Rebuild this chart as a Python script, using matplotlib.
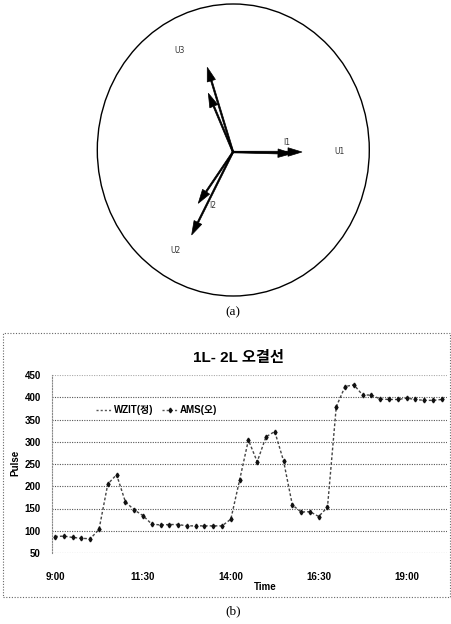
import matplotlib
matplotlib.use("Agg")
import numpy as np
import matplotlib.pyplot as plt
from matplotlib.patches import Ellipse, Rectangle
from matplotlib.lines import Line2D

# ---------------- data ----------------
# (a) phasor diagram: magnitudes (px-scaled) and angles (deg)
phasor_names = ["U1", "I1", "U3", "I3", "U2", "I2"]
phasor_mag = [69, 59, 88.5, 63.7, 92.7, 62]
phasor_ang = [0, -1.5, 106.9, 112.8, 243.5, 235.9]
label_text = ["U1", "I1", "U3", "U2", "I2"]
label_r = [107, 55, 115, 114, 57]
label_ang = [0, 9.5, 117.9, 240, 249]

# (b) line chart
times = ["9:00", "9:15", "9:30", "9:45", "10:00", "10:15", "10:30", "10:45",
         "11:00", "11:15", "11:30", "11:45", "12:00", "12:15", "12:30", "12:45",
         "13:00", "13:15", "13:30", "13:45", "14:00", "14:15", "14:30", "14:45",
         "15:00", "15:15", "15:30", "15:45", "16:00", "16:15", "16:30", "16:45",
         "17:00", "17:15", "17:30", "17:45", "18:00", "18:15", "18:30", "18:45",
         "19:00", "19:15", "19:30", "19:45", "20:00"]
pulse = [87, 88, 85, 83, 82, 103, 205, 226, 165, 147, 134, 115, 113, 114, 114,
         111, 111, 111, 111, 111, 126, 214, 304, 255, 311, 323, 257, 158, 142,
         143, 132, 153, 379, 424, 428, 405, 405, 396, 395, 395, 398, 395, 393,
         393, 395]
xtick_labels = ["9:00", "11:30", "14:00", "16:30", "19:00"]
yticks = [50, 100, 150, 200, 250, 300, 350, 400, 450]

W, H = 452, 624
fig = plt.figure(figsize=(W / 100, H / 100), dpi=100)

# ---------------- (a) phasor ----------------
ax1 = fig.add_axes([0, 1 - 312 / H, 1, 312 / H])
ax1.set_xlim(-233, W - 233)
ax1.set_ylim(152 - 312, 152)
ax1.axis("off")
ax1.add_patch(Ellipse((0.3, 2), 272, 292, fill=False, ec="black", lw=1.0))
for m, a in zip(phasor_mag, phasor_ang):
    r = np.deg2rad(a)
    ax1.arrow(0, 0, m * np.cos(r), m * np.sin(r), width=1.5, head_width=8.5,
              head_length=14, length_includes_head=True, color="black", lw=0.5)
for t, r, a in zip(label_text, label_r, label_ang):
    rad = np.deg2rad(a)
    ax1.text(r * np.cos(rad), r * np.sin(rad), t, fontsize=5.5, color="#333333",
             ha="center", va="center", family="DejaVu Sans")
fig.text(233 / W, 1 - 312 / H, "(a)", ha="center", va="center",
         fontsize=9.5, family="Liberation Serif")

# ---------------- (b) line chart ----------------
fam = ["Liberation Sans Narrow", "Liberation Sans", "Noto Sans CJK KR"]
fig.add_artist(Rectangle((3 / W, 1 - 597 / H), 447 / W, 264 / H,
                         transform=fig.transFigure, fill=False, ec="#666666",
                         lw=0.8, ls=(0, (1, 1.5))))

ax2 = fig.add_axes([52 / W, 1 - 553 / H, 395 / W, 178 / H])
x = np.arange(len(pulse))
ax2.plot(x, pulse, ls=(0, (2, 1.5)), color="#444444", lw=1.0, label="WZIT(정)")
ax2.plot(x, pulse, ls="none", marker="d", ms=2.4, color="#111111", label="AMS(오)")
ax2.set_xlim(-0.35, 44.6)
ax2.set_ylim(50, 450)
ax2.set_yticks(yticks)
ax2.set_yticklabels([str(v) for v in yticks], family=fam, fontweight="bold",
                    fontsize=7)
ax2.set_xticks([times.index(t) for t in xtick_labels])
ax2.set_xticklabels(xtick_labels, family=fam, fontweight="bold", fontsize=7)
ax2.tick_params(axis="both", length=0)
ax2.tick_params(axis="y", pad=8)
ax2.tick_params(axis="x", pad=14)
for s in ["top", "right", "bottom"]:
    ax2.spines[s].set_visible(False)
ax2.spines["left"].set_linestyle((0, (1, 1.5)))
ax2.spines["left"].set_color("#888888")
ax2.spines["left"].set_linewidth(0.8)
for v in yticks:
    ax2.axhline(v, color="#555555" if v < 450 else "#aaaaaa", lw=0.8,
                ls=(0, (1, 1.2)), zorder=0)
ax2.set_ylabel("Pulse", family=fam, fontweight="bold", fontsize=7)
ax2.set_xlabel("Time", family=fam, fontweight="bold", fontsize=7)
ax2.yaxis.set_label_coords((20 - 52) / 395, (553 - 463) / 178)
ax2.xaxis.set_label_coords((265 - 52) / 395, (553 - 582) / 178)

handles = [Line2D([], [], ls=(0, (1.5, 1.5)), color="#555555", lw=1.0),
           Line2D([], [], ls=(0, (1.5, 1.5)), color="#555555", lw=1.0,
                  marker="d", ms=2.4, mfc="#111111", mec="#111111", markevery=[1])]
ax2.legend(handles, ["WZIT(정)", "AMS(오)"], ncol=2, frameon=False,
           loc="center left", bbox_to_anchor=((96 - 52) / 395, (553 - 410) / 178),
           prop={"family": fam, "weight": "bold", "size": 7},
           handlelength=1.6, handletextpad=0.3, columnspacing=0.8,
           borderaxespad=0, borderpad=0)

fig.text(238 / W, 1 - 358 / H, "1L- 2L 오결선", ha="center", va="center",
         fontsize=11, fontweight="bold", family=["Liberation Sans", "Noto Sans CJK KR"])
fig.text(233 / W, 1 - 611 / H, "(b)", ha="center", va="center",
         fontsize=9.5, family="Liberation Serif")

fig.savefig("out.png", dpi=100)
